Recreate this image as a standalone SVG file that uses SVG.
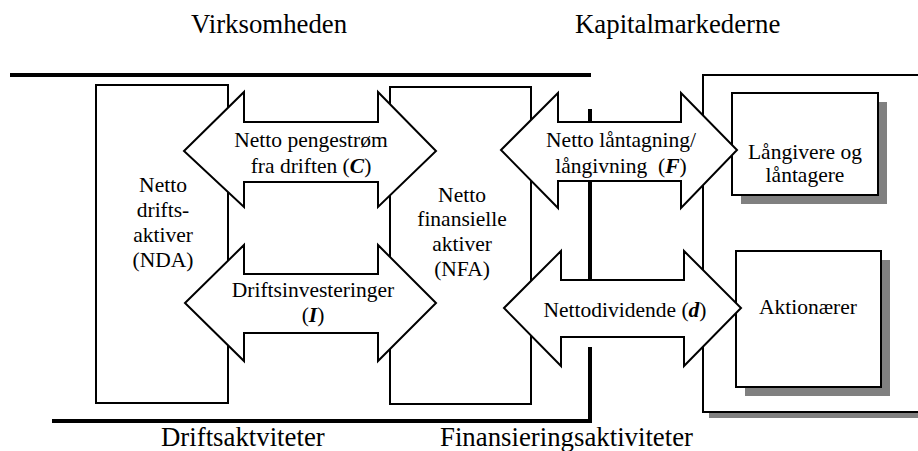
<svg xmlns="http://www.w3.org/2000/svg" width="918" height="451" viewBox="0 0 918 451" font-family="'Liberation Serif', 'Times New Roman', Times, serif">
<style>
  .title { font-size: 26.8px; font-family: 'Liberation Serif', 'Times New Roman', Times, serif; }
  .body { font-size: 21.5px; text-anchor: middle; font-family: 'Liberation Serif', 'Times New Roman', Times, serif; }
  .bi { font-weight: bold; font-style: italic; }
  .box { fill: #fff; stroke: #000; stroke-width: 2; }
  .shadow { fill: #808080; stroke: none; }
  .arrow { fill: #fff; stroke: #000; stroke-width: 2; stroke-linejoin: miter; }
  .thick { fill: none; stroke: #000; stroke-width: 4; }
</style>
<rect width="918" height="451" fill="#fff"/>

<g id="titles" font-family="Liberation Serif, serif">
  <text class="title" x="191" y="33">Virksomheden</text>
  <text class="title" x="575" y="33">Kapitalmarkederne</text>
  <text class="title" x="161" y="446">Driftsaktviteter</text>
  <text class="title" x="440" y="446">Finansieringsaktiviteter</text>
</g>

<g id="boundaries">
  <line class="thick" x1="10" y1="75" x2="591" y2="75"/>
  <polyline class="thick" points="52,421 590,421 590,347"/>
  <line class="thick" x1="590" y1="109" x2="590" y2="290" stroke-width="3.5"/>
</g>

<g id="kapitalmarked">
  <rect class="shadow" x="709" y="81" width="230" height="337"/>
  <rect class="box" x="703" y="75" width="230" height="337"/>
</g>

<g id="nda" font-family="Liberation Serif, serif">
  <rect class="box" x="96" y="85" width="132" height="318"/>
  <text class="body" x="163" y="192">Netto</text>
  <text class="body" x="163" y="216.5">drifts-</text>
  <text class="body" x="163" y="241.5">aktiver</text>
  <text class="body" x="163" y="266.5">(NDA)</text>
</g>

<g id="nfa" font-family="Liberation Serif, serif">
  <rect class="box" x="390" y="87" width="141" height="317"/>
  <text class="body" x="462" y="201.5">Netto</text>
  <text class="body" x="462" y="226">finansielle</text>
  <text class="body" x="462" y="251">aktiver</text>
  <text class="body" x="462" y="276">(NFA)</text>
</g>

<g id="langivere" font-family="Liberation Serif, serif">
  <rect class="shadow" x="741" y="102" width="146" height="102"/>
  <rect class="box" x="732" y="93" width="146" height="102"/>
  <text class="body" x="805" y="159">Långivere og</text>
  <text class="body" x="805" y="182">låntagere</text>
</g>

<g id="aktionaerer" font-family="Liberation Serif, serif">
  <rect class="shadow" x="745" y="260" width="145" height="136"/>
  <rect class="box" x="736" y="251" width="145" height="136"/>
  <text class="body" x="808" y="314">Aktionærer</text>
</g>

<g id="connectors" font-family="Liberation Serif, serif">
  <g id="arrow-C">
    <path class="arrow" d="M184,151 L244,92 L244,122 L378,122 L378,92 L436,151 L378,207 L378,182 L244,182 L244,207 Z"/>
    <text class="body" x="311" y="146.7">Netto pengestrøm</text>
    <text class="body" x="311" y="172.7">fra driften (<tspan class="bi">C</tspan>)</text>
  </g>
  <g id="arrow-I">
    <path class="arrow" d="M185,303 L244,245 L244,274 L378,274 L378,245 L436,303 L378,361 L378,333 L244,333 L244,361 Z"/>
    <text class="body" x="313" y="296.7">Driftsinvesteringer</text>
    <text class="body" x="313" y="322">(<tspan class="bi">I</tspan>)</text>
  </g>
  <g id="arrow-F">
    <path class="arrow" d="M501,150 L558,93 L558,122 L681,122 L681,93 L737,150 L681,208 L681,181 L558,181 L558,208 Z"/>
    <text class="body" x="621" y="146.7">Netto låntagning/</text>
    <text class="body" x="621" y="172.7">långivning&#160; (<tspan class="bi">F</tspan>)</text>
  </g>
  <g id="arrow-d">
    <path class="arrow" d="M504,308 L561,251 L561,280 L684,280 L684,251 L741,308 L684,366 L684,337 L561,337 L561,366 Z"/>
    <text class="body" x="625" y="316.5">Nettodividende (<tspan class="bi">d</tspan>)</text>
  </g>
</g>
</svg>
